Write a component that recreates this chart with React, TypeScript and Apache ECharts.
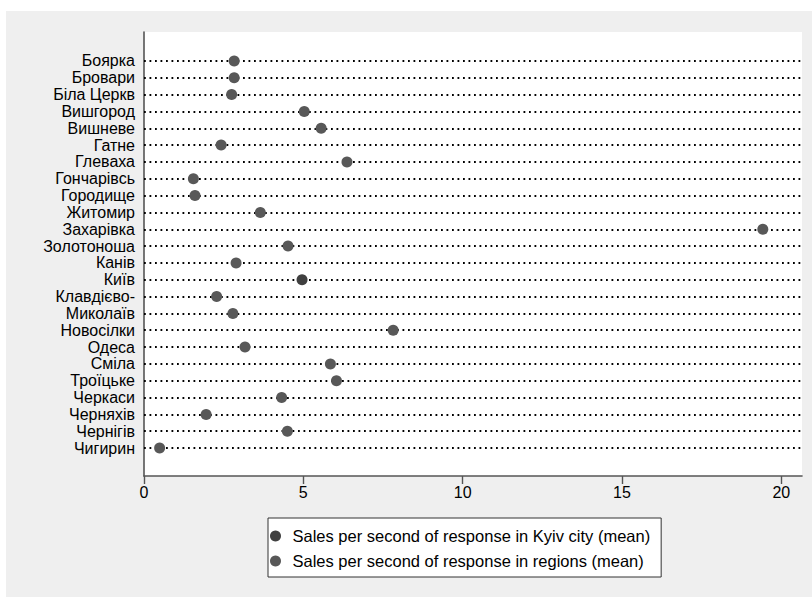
import React, { useEffect, useRef } from "react";
import * as echarts from "echarts";

const categories = [
  "Боярка", "Бровари", "Біла Церкв", "Вишгород", "Вишневе", "Гатне", "Глеваха",
  "Гончарівсь", "Городище", "Житомир", "Захарівка", "Золотоноша", "Канів", "Київ",
  "Клавдієво-", "Миколаїв", "Новосілки", "Одеса", "Сміла", "Троїцьке", "Черкаси",
  "Черняхів", "Чернігів", "Чигирин",
];

// Sales per second of response in regions (mean); null where not applicable
const regionValues: (number | null)[] = [
  2.83, 2.83, 2.75, 5.03, 5.56, 2.42, 6.37,
  1.55, 1.6, 3.65, 19.42, 4.52, 2.89, null,
  2.28, 2.79, 7.82, 3.17, 5.85, 6.04, 4.32,
  1.95, 4.5, 0.49,
];

// Sales per second of response in Kyiv city (mean)
const kyivValues: (number | null)[] = categories.map((c) => (c === "Київ" ? 4.96 : null));

const xTicks = [0, 5, 10, 15, 20];
const seriesNames = [
  "Sales per second of response in Kyiv city (mean)",
  "Sales per second of response in regions (mean)",
];

const FONT = "'Liberation Sans', Arial, Helvetica, sans-serif";

export default function App() {
  const ref = useRef<HTMLDivElement>(null);
  useEffect(() => {
    if (!ref.current) return;
    const chart = echarts.init(ref.current, undefined, { renderer: "svg" });
    const rowIdx = categories.map((_, i) => i);
    const toData = (vals: (number | null)[]) =>
      vals
        .map((v, i) => (v === null ? null : [v, i]))
        .filter((d) => d !== null) as number[][];

    chart.setOption({
      animation: false,
      backgroundColor: "#efefef",
      textStyle: { fontFamily: FONT },
      grid: {
        left: 138,
        right: 10,
        top: 21,
        bottom: 121,
        show: true,
        backgroundColor: "#ffffff",
        borderWidth: 0,
      },
      xAxis: {
        type: "value",
        min: 0,
        max: 20.65,
        splitLine: { show: false },
        axisLine: { show: true, onZero: false, lineStyle: { color: "#555", width: 1.6 } },
        axisTick: {
          show: true,
          length: 8,
          customValues: xTicks,
          lineStyle: { color: "#555", width: 1.4 },
        },
        axisLabel: {
          customValues: xTicks,
          color: "#000",
          fontSize: 16,
          fontFamily: FONT,
          margin: 8,
        },
      },
      yAxis: {
        type: "value",
        inverse: true,
        min: -1.72,
        max: 24.66,
        splitLine: { show: false },
        axisLine: { show: true, onZero: false, lineStyle: { color: "#555", width: 1.6 } },
        axisTick: { show: false },
        axisLabel: {
          customValues: rowIdx,
          formatter: (v: number) => categories[Math.round(v)] ?? "",
          color: "#000",
          fontSize: 16,
          fontFamily: FONT,
          margin: 9,
        },
      },
      legend: {
        orient: "vertical",
        left: 262,
        top: 507,
        padding: [8, 11, 6, 2],
        itemGap: 5,
        itemWidth: 24,
        itemHeight: 11,
        backgroundColor: "#ffffff",
        borderColor: "#333",
        borderWidth: 1,
        borderRadius: 0,
        textStyle: { color: "#000", fontSize: 16.5, lineHeight: 20, fontFamily: FONT },
        data: seriesNames.map((n) => ({ name: n, icon: "circle" })),
      },
      series: [
        {
          name: seriesNames[0],
          type: "scatter",
          symbol: "circle",
          symbolSize: 11,
          itemStyle: { color: "#404040", opacity: 1 },
          z: 5,
          data: toData(kyivValues),
        },
        {
          name: seriesNames[1],
          type: "scatter",
          symbol: "circle",
          symbolSize: 11,
          itemStyle: { color: "#585858", opacity: 1 },
          z: 5,
          data: toData(regionValues),
          markLine: {
            silent: true,
            symbol: "none",
            label: { show: false },
            z: 1,
            lineStyle: { color: "#000", width: 1.8, type: [1.8, 3.7], opacity: 1 },
            emphasis: { disabled: true },
            data: rowIdx.map((i) => ({ yAxis: i })),
          },
        },
      ],
    });
    return () => chart.dispose();
  }, []);
  return (
    <div
      ref={ref}
      style={{ position: "absolute", left: 6, top: 11, width: 806, height: 586 }}
    />
  );
}
